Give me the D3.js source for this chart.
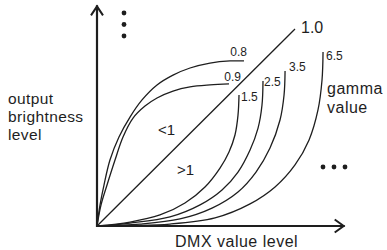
<!DOCTYPE html>
<html>
<head>
<meta charset="utf-8">
<script src="https://cdn.jsdelivr.net/npm/d3@7"></script>
<style>
  html, body { margin: 0; padding: 0; background: #fff; }
  svg { display: block; }
  text { font-family: "Liberation Sans", Arial, Helvetica, sans-serif; fill: #1e1e1e; }
</style>
</head>
<body>
<div id="chart"></div>
<script>
// DMX level (0-255) vs output brightness (%)
const gammaLabels = ["0.8", "0.9", "1.0", "1.5", "2.5", "3.5", "6.5"];

const curve08 = [[0, 0], [3.9, 10.7], [9.0, 20.8], [16.7, 33.5], [28.3, 45.2], [42.5, 55.3], [58.0, 64.0],
    [77.3, 71.6], [97.9, 76.6], [119.8, 80.2], [145.5, 82.7], [171.3, 83.8], [189.3, 83.8]];
const curve09 = [[0, 0], [5.2, 10.7], [12.9, 20.8], [23.2, 33.5], [33.5, 45.2], [46.4, 54.8], [61.8, 60.9],
    [77.3, 65.0], [97.9, 68.5], [119.8, 70.6], [145.5, 71.6], [170.0, 72.1]];
const curve10 = [[0, 0], [255, 100]];
const curve15 = [[0, 0], [42.5, 2.0], [81.1, 5.6], [113.3, 11.7], [139.1, 19.8], [158.4, 29.4],
    [170.0, 37.6], [177.7, 46.2], [181.6, 56.3], [182.9, 66.5]];
const curve25 = [[0, 0], [42.5, 1.5], [94.0, 4.6], [132.7, 10.7], [161.0, 18.3], [181.6, 27.4],
    [197.1, 38.6], [207.4, 49.7], [212.5, 61.4], [213.8, 73.6]];
const curve35 = [[0, 0], [55.4, 1.0], [106.9, 3.6], [148.1, 9.1], [181.6, 17.3], [204.8, 27.4],
    [222.8, 39.6], [235.7, 53.8], [240.9, 66.5], [242.2, 78.7]];
const curve65 = [[0, 0], [94.0, 1.0], [152.0, 4.1], [197.1, 11.2], [229.3, 19.8], [255.0, 31.0],
    [273.1, 43.7], [284.6, 58.9], [289.8, 74.1], [291.1, 88.3]];

const curves = [curve08, curve09, curve10, curve15, curve25, curve35, curve65];
const axisMax = { dmx: 319, brightness: 112 };
const yTitle = ["output", "brightness", "level"];
const legendTitle = ["gamma", "value"];

const width = 387;
const height = 250;
const ink = "#1e1e1e";

const x = d3.scaleLinear().domain([0, 255]).range([97, 295]);
const y = d3.scaleLinear().domain([0, 100]).range([226, 29]);

const svg = d3.select("#chart").append("svg")
    .attr("width", width)
    .attr("height", height)
    .attr("viewBox", [0, 0, width, height]);

const line = d3.line()
    .x((d) => x(d[0]))
    .y((d) => y(d[1]))
    .curve(d3.curveCatmullRom.alpha(0.5));

svg.append("g")
    .selectAll("path")
    .data(curves)
    .join("path")
    .attr("fill", "none")
    .attr("stroke", ink)
    .attr("stroke-width", 1.3)
    .attr("d", line);

// axes with open arrowheads
const x0 = x(0), y0 = y(0);
const xEnd = x(axisMax.dmx), yEnd = y(axisMax.brightness);
svg.append("path")
    .attr("fill", "none")
    .attr("stroke", ink)
    .attr("stroke-width", 2.2)
    .attr("d", `M${x0},${yEnd}V${y0}H${xEnd}`);
svg.append("path")
    .attr("fill", "none")
    .attr("stroke", ink)
    .attr("stroke-width", 2)
    .attr("stroke-linejoin", "miter")
    .attr("d", `M${x0 - 6},${yEnd + 10}L${x0},${yEnd + 1}L${x0 + 6},${yEnd + 10}` +
        `M${xEnd - 10},${y0 - 6.5}L${xEnd - 1},${y0}L${xEnd - 10},${y0 + 6.5}`);

// gamma labels next to curve ends
const labelPos = [
    { x: 247, y: 56, size: 12, anchor: "end" },
    { x: 241, y: 81, size: 12, anchor: "end" },
    { x: 301, y: 33, size: 16, anchor: "start" },
    { x: 241, y: 101, size: 12, anchor: "start" },
    { x: 264, y: 86, size: 12, anchor: "start" },
    { x: 289, y: 71, size: 12, anchor: "start" },
    { x: 326, y: 60, size: 12, anchor: "start" }
];
svg.append("g")
    .selectAll("text")
    .data(gammaLabels)
    .join("text")
    .attr("x", (d, i) => labelPos[i].x)
    .attr("y", (d, i) => labelPos[i].y)
    .attr("font-size", (d, i) => labelPos[i].size)
    .attr("text-anchor", (d, i) => labelPos[i].anchor)
    .text((d) => d);

svg.append("text").attr("x", 158).attr("y", 135).attr("font-size", 15).text("<1");
svg.append("text").attr("x", 177).attr("y", 175).attr("font-size", 15).text(">1");

svg.append("g")
    .selectAll("text")
    .data(yTitle)
    .join("text")
    .attr("x", 8)
    .attr("y", (d, i) => 104 + i * 18)
    .attr("font-size", 15.5)
    .attr("letter-spacing", 0.4)
    .text((d) => d);

svg.append("g")
    .selectAll("text")
    .data(legendTitle)
    .join("text")
    .attr("x", 327)
    .attr("y", (d, i) => 94 + i * 19)
    .attr("font-size", 16)
    .attr("letter-spacing", 0.5)
    .text((d) => d);

svg.append("text")
    .attr("x", 175)
    .attr("y", 247)
    .attr("font-size", 16)
    .attr("letter-spacing", 0.5)
    .text("DMX value level");

// ellipsis marks: more curves beyond the ones drawn
svg.append("g")
    .selectAll("circle")
    .data([13, 24.5, 36])
    .join("circle")
    .attr("cx", 124)
    .attr("cy", (d) => d)
    .attr("r", 2.4)
    .attr("fill", ink);
svg.append("g")
    .selectAll("circle")
    .data([323, 334, 345])
    .join("circle")
    .attr("cx", (d) => d)
    .attr("cy", 167)
    .attr("r", 2.4)
    .attr("fill", ink);
</script>
</body>
</html>
